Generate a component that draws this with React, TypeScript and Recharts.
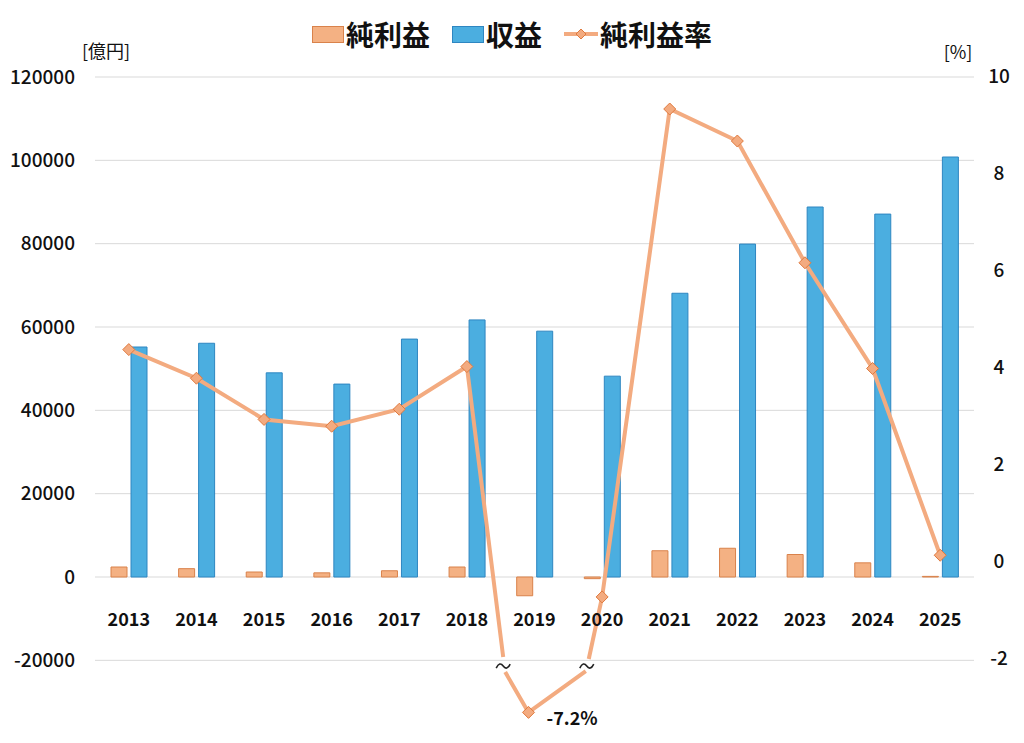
import {
  ComposedChart,
  Bar,
  Line,
  XAxis,
  YAxis,
  CartesianGrid,
  Legend,
  Label,
} from "recharts";

const years = [
  "2013", "2014", "2015", "2016", "2017", "2018", "2019",
  "2020", "2021", "2022", "2023", "2024", "2025",
];
// 億円
const netProfit = [2400, 2000, 1200, 1000, 1500, 2400, -4500, -400, 6300, 6900, 5400, 3400, 150];
const revenue = [55200, 56100, 49000, 46300, 57100, 61700, 59000, 48200, 68100, 79900, 88800, 87100, 100800];
// %
const margin = [4.38, 3.79, 2.94, 2.8, 3.15, 4.03, -7.2, -0.72, 9.34, 8.68, 6.17, 3.99, 0.14];

// 2019 is drawn on a broken axis: real value off-chart, marker shown lower
const BREAK_INDEX = 6;
const BREAK_SHOWN = -3.1;
const BREAK_LEVEL = -2;

const leftTicks = [-20000, 0, 20000, 40000, 60000, 80000, 100000, 120000];
const rightTicks = [-2, 0, 2, 4, 6, 8, 10];

const data = years.map((year, i) => ({
  year,
  net: netProfit[i],
  revenue: revenue[i],
  rate: i === BREAK_INDEX ? null : margin[i],
  rateShown: i === BREAK_INDEX ? BREAK_SHOWN : margin[i],
}));

const FONT = "'Noto Sans CJK JP', 'Noto Sans', sans-serif";
const ORANGE = "#F4B183";
const ORANGE_EDGE = "#D9824B";
const BLUE = "#4BAEE0";
const BLUE_EDGE = "#2E86C1";
const LINE = "#F3AB80";
const DOT_EDGE = "#E07A3E";

function Diamond({ cx, cy, r = 6 }: { cx: number; cy: number; r?: number }) {
  return (
    <polygon
      points={`${cx},${cy - r} ${cx + r},${cy} ${cx},${cy + r} ${cx - r},${cy}`}
      fill={LINE}
      stroke={DOT_EDGE}
      strokeWidth={1}
    />
  );
}

const RateDot = (props: any) => {
  const { cx, cy, index } = props;
  if (cx == null || cy == null) return <g key={`d${index}`} />;
  return <Diamond key={`d${index}`} cx={cx} cy={cy} />;
};

const Tilde = ({ x, y }: { x: number; y: number }) => (
  <path
    d={`M${x - 7},${y + 2} Q${x - 3.5},${y - 5} ${x},${y} Q${x + 3.5},${y + 5} ${x + 7},${y - 2}`}
    fill="none"
    stroke="#222"
    strokeWidth={1.6}
  />
);

// draws the broken section around 2019
const BreakDot = (props: any) => {
  const { cx, cy, index, points } = props;
  if (index !== BREAK_INDEX || cx == null || cy == null) return <g key={`b${index}`} />;
  const mx = cx - 6;
  const label = (
    <text x={cx + 12} y={cy + 13} fontSize={18} fontWeight={700} fontFamily={FONT} fill="#111">
      {`${margin[BREAK_INDEX]}%`}
    </text>
  );
  if (!points || !points[index - 1] || !points[index + 1]) {
    return (
      <g key="break">
        <Diamond cx={mx} cy={cy} />
        {label}
      </g>
    );
  }
  const p0 = points[index - 1];
  const p2 = points[index + 1];
  const v0 = margin[index - 1];
  const v2 = margin[index + 1];
  const vt = margin[index];
  const unit = (p2.y - p0.y) / (v0 - v2);
  const yb = p0.y + (v0 - BREAK_LEVEL) * unit;
  const x1 = p0.x + (cx - p0.x) * ((v0 - BREAK_LEVEL) / (v0 - vt));
  const x2 = cx + (p2.x - cx) * ((BREAK_LEVEL - vt) / (v2 - vt));
  const seg = { stroke: LINE, strokeWidth: 4, fill: "none", strokeLinejoin: "round" as const };
  return (
    <g key="break">
      <polyline points={`${p0.x},${p0.y} ${x1},${yb - 2}`} {...seg} />
      <polyline points={`${x2},${yb} ${p2.x},${p2.y}`} {...seg} />
      <polyline points={`${x1 + 2},${yb + 13} ${mx},${cy} ${x2 - 3},${yb + 12}`} {...seg} />
      <Tilde x={x1} y={yb + 7} />
      <Tilde x={x2 - 2} y={yb + 7} />
      <Diamond cx={mx} cy={cy} />
      {label}
    </g>
  );
};

const YearTick = (props: any) => {
  const { x, y, payload } = props;
  return (
    <text x={x} y={y - 99} textAnchor="middle" fontSize={18} fontWeight={700} fontFamily={FONT} fill="#111">
      {payload.value}
    </text>
  );
};

const RightTick = (props: any) => {
  const { x, y, payload } = props;
  return (
    <text x={x + 25} y={y + 6} textAnchor="middle" fontSize={19} fontWeight={500} fontFamily={FONT} fill="#111">
      {payload.value}
    </text>
  );
};

const LegendBox = () => {
  const item = { display: "flex", alignItems: "center", marginRight: 22 } as const;
  const text = { fontSize: 28, fontWeight: 700, color: "#111", lineHeight: "40px" } as const;
  return (
    <div style={{ display: "flex", justifyContent: "center", fontFamily: FONT, height: 40 }}>
      <div style={item}>
        <span style={{ width: 30, height: 15, background: ORANGE, border: `1px solid ${ORANGE_EDGE}`, marginRight: 2 }} />
        <span style={text}>純利益</span>
      </div>
      <div style={item}>
        <span style={{ width: 30, height: 15, background: BLUE, border: `1px solid ${BLUE_EDGE}`, marginRight: 2 }} />
        <span style={text}>収益</span>
      </div>
      <div style={{ ...item, marginRight: 0 }}>
        <svg width={34} height={14} style={{ marginRight: 2 }}>
          <line x1={0} y1={7} x2={34} y2={7} stroke={LINE} strokeWidth={4} />
          <Diamond cx={17} cy={7} r={5} />
        </svg>
        <span style={text}>純利益率</span>
      </div>
    </div>
  );
};

export default function App() {
  return (
    <div style={{ position: "absolute", left: 0, top: 0, background: "#fff" }}>
      <ComposedChart
        width={1024}
        height={743}
        data={data}
        margin={{ top: 37, right: 0, left: 0, bottom: 0 }}
        barSize={16}
        barGap={4}
      >
        <CartesianGrid
          yAxisId="left"
          vertical={false}
          horizontalValues={leftTicks}
          stroke="#D9D9D9"
        />
        <XAxis
          dataKey="year"
          height={18}
          axisLine={false}
          tickLine={false}
          tickSize={0}
          tickMargin={0}
          interval={0}
          tick={<YearTick />}
        />
        <YAxis
          yAxisId="left"
          width={95}
          domain={[-35520, 120000]}
          ticks={leftTicks}
          axisLine={false}
          tickLine={false}
          tickSize={0}
          tickMargin={20}
          tick={{ fontSize: 19, fontWeight: 500, fill: "#111", fontFamily: FONT }}
        >
          <Label
            content={({ viewBox }: any) => (
              <text x={viewBox.x + viewBox.width + 11} y={viewBox.y - 19} textAnchor="middle" fontSize={18} fontFamily={FONT} fill="#111">
                [億円]
              </text>
            )}
          />
        </YAxis>
        <YAxis
          yAxisId="right"
          orientation="right"
          width={50}
          domain={[-3.36, 10]}
          ticks={rightTicks}
          axisLine={false}
          tickLine={false}
          tickSize={0}
          tickMargin={0}
          tick={<RightTick />}
        >
          <Label
            content={({ viewBox }: any) => (
              <text x={viewBox.x - 16} y={viewBox.y - 18} textAnchor="middle" fontSize={18} fontFamily={FONT} fill="#111">
                [%]
              </text>
            )}
          />
        </YAxis>
        <Legend verticalAlign="top" wrapperStyle={{ top: 14 }} content={<LegendBox />} />
        <Bar yAxisId="left" dataKey="net" name="純利益" fill={ORANGE} stroke={ORANGE_EDGE} strokeWidth={1} isAnimationActive={false} />
        <Bar yAxisId="left" dataKey="revenue" name="収益" fill={BLUE} stroke={BLUE_EDGE} strokeWidth={1} isAnimationActive={false} />
        <Line
          yAxisId="right"
          dataKey="rateShown"
          stroke="none"
          dot={BreakDot}
          activeDot={false}
          legendType="none"
          isAnimationActive={false}
        />
        <Line
          yAxisId="right"
          dataKey="rate"
          name="純利益率"
          stroke={LINE}
          strokeWidth={4}
          connectNulls={false}
          dot={RateDot}
          activeDot={false}
          isAnimationActive={false}
        />
      </ComposedChart>
    </div>
  );
}
